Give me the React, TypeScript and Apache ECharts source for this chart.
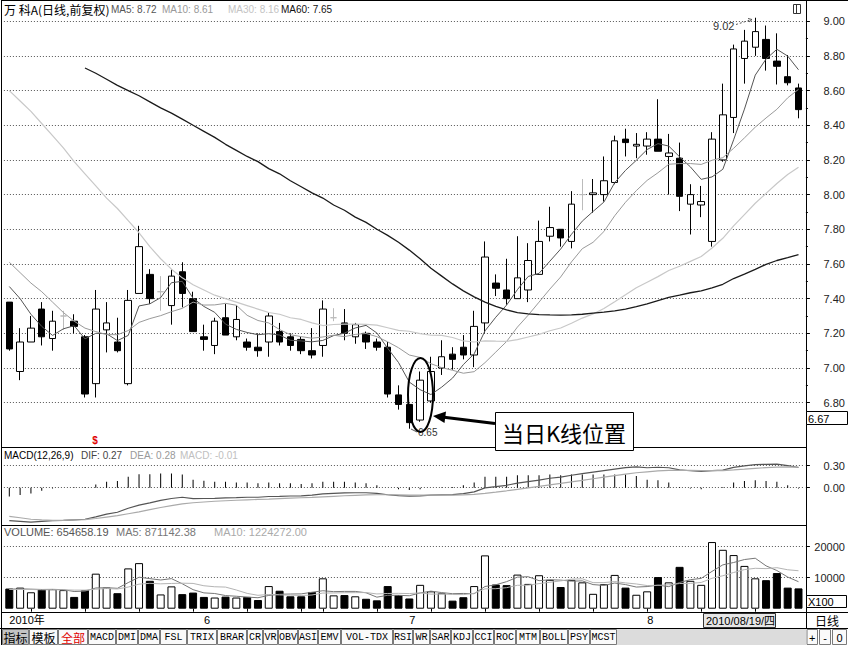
import React, { useEffect, useRef } from "react";
import * as echarts from "echarts";

// ---------------- data ----------------
const dates = [
  "2010-05-06","2010-05-07","2010-05-10","2010-05-11","2010-05-12","2010-05-13","2010-05-14",
  "2010-05-17","2010-05-18","2010-05-19","2010-05-20","2010-05-21","2010-05-24","2010-05-25",
  "2010-05-26","2010-05-27","2010-05-28","2010-05-31",
  "2010-06-01","2010-06-02","2010-06-03","2010-06-04","2010-06-07","2010-06-08","2010-06-09",
  "2010-06-10","2010-06-11","2010-06-17","2010-06-18","2010-06-21","2010-06-22","2010-06-23",
  "2010-06-24","2010-06-25","2010-06-28","2010-06-29","2010-06-30",
  "2010-07-01","2010-07-02","2010-07-05","2010-07-06","2010-07-07","2010-07-08","2010-07-09",
  "2010-07-12","2010-07-13","2010-07-14","2010-07-15","2010-07-16","2010-07-19","2010-07-20",
  "2010-07-21","2010-07-22","2010-07-23","2010-07-26","2010-07-27","2010-07-28","2010-07-29",
  "2010-07-30",
  "2010-08-02","2010-08-03","2010-08-04","2010-08-05","2010-08-06","2010-08-09","2010-08-10",
  "2010-08-11","2010-08-12","2010-08-13","2010-08-16","2010-08-17","2010-08-18","2010-08-19",
  "2010-08-20"
];
const openP = [
  7.38,6.98,7.15,7.34,7.17,7.30,7.27,7.18,6.91,7.22,
  7.15,6.91,7.43,7.54,7.44,7.36,7.555,7.40,7.18,7.13,
  7.29,7.18,7.15,7.12,7.15,7.21,7.18,7.165,7.10,7.13,
  7.29,7.26,7.18,7.20,7.15,7.12,6.845,6.79,6.70,6.81,
  7.00,7.08,7.12,7.075,7.26,7.49,7.45,7.40,7.45,7.54,
  7.76,7.80,7.73,8.00,8.00,8.00,8.07,8.32,8.28,8.28,
  8.32,8.22,8.21,7.945,7.94,7.73,8.20,8.445,8.785,8.85,
  8.895,8.77,8.68,8.615
];
const closeP = [
  7.11,7.15,7.23,7.18,7.27,7.30,7.24,6.85,7.34,7.26,
  7.10,7.39,7.70,7.40,7.44,7.53,7.43,7.21,7.165,7.27,
  7.19,7.28,7.12,7.10,7.30,7.15,7.13,7.10,7.075,7.34,
  7.29,7.20,7.25,7.15,7.12,6.85,6.79,6.685,6.93,6.98,
  7.065,7.05,7.075,7.24,7.64,7.46,7.40,7.52,7.62,7.73,
  7.81,7.75,7.945,8.00,8.01,8.08,8.31,8.30,8.29,8.32,
  8.25,8.24,7.99,8.00,7.96,8.32,8.46,8.84,8.885,8.94,
  8.785,8.74,8.645,8.49
];
const lowP = [
  7.10,6.93,7.15,7.13,7.10,7.22,7.20,6.83,6.83,7.09,
  7.09,6.90,7.43,7.37,7.33,7.25,7.35,7.21,7.10,7.08,
  7.19,7.16,7.10,7.065,7.065,7.13,7.10,7.08,7.055,7.065,
  7.27,7.16,7.14,7.11,7.10,6.83,6.76,6.65,6.69,6.80,
  6.96,6.99,7.05,7.005,7.20,7.415,7.365,7.40,7.38,7.54,
  7.73,7.70,7.69,7.91,7.895,7.96,8.06,8.22,8.21,8.23,
  8.25,8.00,7.905,7.77,7.87,7.70,8.19,8.355,8.64,8.80,
  8.715,8.635,8.63,8.44
];
const highP = [
  7.38,7.23,7.30,7.38,7.33,7.33,7.31,7.19,7.45,7.38,
  7.29,7.45,7.82,7.57,7.53,7.57,7.61,7.44,7.25,7.29,
  7.37,7.36,7.17,7.20,7.32,7.26,7.20,7.18,7.23,7.39,
  7.345,7.34,7.26,7.21,7.17,7.15,6.90,6.79,6.98,7.065,
  7.16,7.12,7.19,7.33,7.73,7.54,7.63,7.76,7.72,7.85,
  7.93,7.80,8.02,8.09,8.09,8.22,8.34,8.38,8.355,8.36,
  8.55,8.35,8.30,8.06,8.05,8.36,8.64,8.865,8.95,9.02,
  8.975,8.93,8.805,8.64
];
const grayDoji = [5, 14, 30, 53];

const ma5 = [
  7.47,7.40,7.31,7.24,7.188,7.226,7.244,7.168,7.20,7.198,
  7.158,7.188,7.358,7.37,7.406,7.492,7.50,7.402,7.355,7.321,
  7.253,7.223,7.205,7.192,7.198,7.19,7.16,7.156,7.151,7.159,
  7.187,7.201,7.231,7.246,7.202,7.114,7.032,6.919,6.875,6.847,
  6.89,6.942,7.02,7.082,7.214,7.293,7.363,7.452,7.528,7.546,
  7.616,7.686,7.771,7.847,7.903,7.957,8.069,8.14,8.198,8.26,
  8.294,8.28,8.218,8.16,8.088,8.102,8.146,8.316,8.493,8.689,
  8.782,8.838,8.799,8.72
];
const ma10 = [
  7.61,7.55,7.49,7.44,7.38,7.32,7.27,7.23,7.21,7.193,
  7.192,7.216,7.263,7.285,7.302,7.325,7.344,7.38,7.363,7.364,
  7.373,7.362,7.304,7.274,7.26,7.222,7.192,7.181,7.172,7.179,
  7.189,7.181,7.194,7.199,7.181,7.151,7.117,7.075,7.061,7.025,
  7.002,6.987,6.97,6.979,7.031,7.092,7.153,7.236,7.305,7.38,
  7.455,7.525,7.612,7.688,7.725,7.787,7.878,7.956,8.023,8.082,
  8.126,8.175,8.179,8.179,8.174,8.198,8.213,8.267,8.327,8.389,
  8.442,8.492,8.558,8.607
];
const ma30 = [
  8.60,8.54,8.48,8.41,8.34,8.27,8.19,8.12,8.05,7.98,
  7.92,7.85,7.78,7.70,7.63,7.57,7.52,7.48,7.45,7.42,
  7.40,7.38,7.36,7.34,7.32,7.31,7.29,7.28,7.26,7.245,
  7.251,7.253,7.253,7.252,7.247,7.232,7.217,7.212,7.198,7.189,
  7.188,7.176,7.156,7.150,7.157,7.155,7.154,7.164,7.179,7.194,
  7.215,7.231,7.258,7.288,7.312,7.343,7.382,7.422,7.463,7.495,
  7.527,7.562,7.587,7.615,7.643,7.692,7.748,7.820,7.885,7.950,
  8.007,8.064,8.116,8.158
];
const ma60 = [
  "-","-","-","-","-","-","-",8.73,8.70,8.665,
  8.63,8.60,8.57,8.535,8.50,8.47,8.435,8.40,8.365,8.33,
  8.29,8.255,8.22,8.19,8.15,8.12,8.08,8.045,8.01,7.98,
  7.94,7.91,7.87,7.84,7.80,7.765,7.725,7.68,7.63,7.575,
  7.53,7.485,7.445,7.41,7.38,7.355,7.335,7.32,7.312,7.308,
  7.306,7.305,7.307,7.31,7.316,7.322,7.33,7.34,7.354,7.370,
  7.389,7.407,7.420,7.434,7.445,7.462,7.483,7.516,7.541,7.569,
  7.598,7.620,7.636,7.654
];

// volume in units of 100 (axis "X100")
const volume = [
  6500,6800,5300,6300,6300,6000,3800,6000,11300,6800,
  5000,13000,14700,9000,4600,7200,4700,5200,3800,3600,
  3900,3600,3800,2800,7300,5800,4000,4000,5400,9800,
  4300,4400,4000,3200,2700,7300,4400,3300,7700,5600,
  5000,2600,3700,7300,17200,7800,7600,11000,8000,10800,
  9300,7000,9300,8500,4800,7900,10900,6800,4500,5600,
  10200,8500,13500,9000,7700,21500,19000,17300,13800,9800,
  9200,11500,6800,6547
];
const volMa5 = [
  6300,6400,6300,6200,6240,6140,5540,5680,6680,6780,
  6580,8420,10160,9700,9260,9700,8040,6140,5100,4900,
  4240,4020,3740,3540,4280,4660,4740,4780,5300,5800,
  5500,5580,5580,5140,3720,4320,4320,4180,5080,5660,
  5200,4840,4920,4840,7160,7720,8720,10180,10320,9040,
  9340,9220,8880,8980,7780,7500,8280,7780,6980,7140,
  7600,7120,8460,9360,9780,12040,14140,14900,15860,16280,
  13820,12320,10220,8711
];
const volMa10 = [
  6200,6200,6200,6100,6100,6100,6000,6000,6300,6510,
  6360,6980,7920,8190,8020,8140,8230,8150,7400,7080,
  6970,6030,4940,4320,4590,4450,4380,4260,4420,5040,
  5080,5160,5180,5220,4760,4910,4950,4880,5110,4690,
  4760,4580,4550,4960,6410,6460,6780,7550,7580,8100,
  8530,8970,9530,9650,8410,8420,8750,8330,7980,7460,
  7550,7700,8120,8170,8460,9820,10630,11680,12610,13030,
  12930,13230,12560,12243
];

const macd = [
  -0.12,-0.10,-0.08,-0.04,-0.01,0,0.005,0.01,0.045,0.08,
  0.09,0.15,0.185,0.185,0.195,0.195,0.18,0.11,0.095,0.08,
  0.08,0.07,0.07,0.06,0.07,0.06,0.06,0.05,0.06,0.08,
  0.08,0.08,0.07,0.06,0.035,0,-0.02,-0.03,-0.02,0,
  0.005,0.01,0.035,0.07,0.15,0.15,0.15,0.17,0.17,0.17,
  0.18,0.17,0.18,0.18,0.18,0.18,0.18,0.18,0.16,0.11,
  0.10,0.07,0.01,-0.01,-0.02,0,0.01,0.07,0.09,0.10,
  0.09,0.08,0.035,-0.01
];
const dea = [
  -0.39,-0.41,-0.43,-0.44,-0.445,-0.445,-0.44,-0.435,-0.42,-0.40,
  -0.38,-0.355,-0.33,-0.30,-0.27,-0.245,-0.22,-0.205,-0.195,-0.185,
  -0.178,-0.171,-0.165,-0.16,-0.155,-0.149,-0.143,-0.137,-0.131,-0.124,
  -0.117,-0.11,-0.104,-0.099,-0.096,-0.096,-0.098,-0.10,-0.102,-0.102,
  -0.101,-0.10,-0.098,-0.092,-0.077,-0.06,-0.042,-0.022,-0.002,0.018,
  0.039,0.059,0.08,0.101,0.122,0.143,0.164,0.185,0.204,0.217,
  0.229,0.237,0.238,0.236,0.233,0.233,0.234,0.242,0.252,0.264,
  0.274,0.281,0.283,0.28
];
const dif = [
  -0.45,-0.46,-0.47,-0.46,-0.45,-0.445,-0.4375,-0.43,-0.3975,-0.36,
  -0.335,-0.28,-0.2375,-0.2075,-0.1725,-0.1475,-0.13,-0.15,-0.1475,-0.145,
  -0.138,-0.136,-0.13,-0.13,-0.12,-0.119,-0.113,-0.112,-0.101,-0.084,
  -0.077,-0.07,-0.069,-0.069,-0.0785,-0.096,-0.108,-0.115,-0.112,-0.102,
  -0.0985,-0.095,-0.0805,-0.057,-0.002,0.015,0.033,0.063,0.083,0.103,
  0.129,0.144,0.17,0.191,0.212,0.233,0.254,0.275,0.284,0.272,
  0.279,0.272,0.243,0.231,0.223,0.233,0.239,0.277,0.297,0.314,
  0.319,0.321,0.3005,0.275
];

const priceAxis = { min: 6.8, max: 9.0, step: 0.2 };
const macdAxis = { min: 0, max: 0.3, step: 0.3 };
const volAxis = { min: 0, max: 20000, step: 10000 };

const headerTitle = "万 科A(日线,前复权)";
const headerMA = ["MA5: 8.72", "MA10: 8.61", "MA30: 8.16", "MA60: 7.65"];
const macdHeader = ["MACD(12,26,9)", "DIF: 0.27", "DEA: 0.28", "MACD: -0.01"];
const volHeader = ["VOLUME: 654658.19", "MA5: 871142.38", "MA10: 1224272.00"];
const toolbarItems = [
  "指标","模板","全部","MACD","DMI","DMA","FSL","TRIX","BRAR","CR","VR","OBV","ASI",
  "EMV","VOL-TDX","RSI","WR","SAR","KDJ","CCI","ROC","MTM","BOLL","PSY","MCST"
];

// ---------------- styling ----------------
const FONT = '"Liberation Sans", Arial, sans-serif';
const CJK = '"Noto Sans CJK SC", sans-serif';
const MONO = '"Liberation Mono", "DejaVu Sans Mono", monospace';
const C_MA5 = "#555555";
const C_MA10 = "#9a9a9a";
const C_MA30 = "#c8c8c8";
const C_MA60 = "#1a1a1a";

const GRID_LEFT = 3.9;
const GRID_W = 800;

function ln(x1: number, y1: number, x2: number, y2: number, stroke = "#000", lw = 1, extra: any = {}) {
  return { type: "line", silent: true, z: 50, shape: { x1, y1, x2, y2 }, style: { stroke, lineWidth: lw, ...extra } };
}
function rc(x: number, y: number, w: number, h: number, fill: string, stroke: string | null, z = 50, lw = 1) {
  return { type: "rect", silent: true, z, shape: { x, y, width: w, height: h }, style: { fill, stroke: stroke || undefined, lineWidth: lw } };
}
function tx(x: number, y: number, s: string, font: string, fill = "#000", align = "left", z = 60) {
  return { type: "text", silent: true, z, x, y, style: { text: s, font, fill, align, verticalAlign: "middle" } };
}

export default function App() {
  const ref = useRef<HTMLDivElement>(null);
  useEffect(() => {
    const chart = echarts.init(ref.current!, null, { renderer: "svg" });

    const grayStyle = { color: "#bbbbbb", color0: "#bbbbbb", borderColor: "#bbbbbb", borderColor0: "#bbbbbb" };
    const candleData = dates.map((_, i) => {
      const v = [openP[i], closeP[i], lowP[i], highP[i]];
      return grayDoji.includes(i) ? { value: v, itemStyle: grayStyle } : v;
    });
    const volData = volume.map((v, i) => {
      const up = closeP[i] >= openP[i];
      return { value: v, itemStyle: { color: up ? "#ffffff" : "#000000", borderColor: "#000", borderWidth: 1 } };
    });
    const monthStart = (i: number) => i === 0 || dates[i].slice(5, 7) !== dates[i - 1].slice(5, 7);
    const dow = (s: string) => new Date(s + "T00:00:00Z").getUTCDay();
    const weekStart = (i: number) => i > 0 && dow(dates[i]) < dow(dates[i - 1]);

    const yCommon = (min: number, max: number, step: number, fmt: (v: number) => string) => ({
      type: "value",
      position: "right",
      offset: 2,
      min,
      max,
      interval: step,
      axisLine: { show: false },
      axisTick: { show: true, length: 4, lineStyle: { color: "#000" } },
      axisLabel: { margin: 39, align: "right", color: "#222", fontSize: 11, fontFamily: FONT, formatter: fmt },
      splitLine: { show: true, lineStyle: { type: [1, 2], color: "#555", width: 1 } },
    });

    const graphic: any[] = [];
    // frame
    graphic.push(ln(1.5, 0.5, 848, 0.5, "#000"));
    graphic.push(ln(1.5, 0, 1.5, 645, "#000"));
    graphic.push(ln(806.5, 0, 806.5, 628, "#000"));
    graphic.push(ln(1.5, 447.5, 806.5, 447.5, "#000"));
    graphic.push(ln(1.5, 525.5, 806.5, 525.5, "#000"));
    graphic.push(ln(1.5, 612.5, 848, 612.5, "#000"));
    graphic.push(ln(0, 628.5, 848, 628.5, "#000"));
    // top-right icon
    graphic.push(rc(793.5, 4.5, 7, 9, "#fff", "#333"));
    graphic.push(ln(796.5, 4.5, 796.5, 13.5, "#333"));
    // headers
    graphic.push(tx(4, 9.5, headerTitle, "12px " + CJK, "#000"));
    const maX = [111, 162, 228, 281];
    const maC = [C_MA5, "#999", "#c4c4c4", "#111"];
    headerMA.forEach((s, i) => graphic.push(tx(maX[i], 9.5, s, "10px " + FONT, maC[i])));
    const mX = [4, 81, 130, 180];
    const mC = ["#000", "#444", "#999", "#c0c0c0"];
    macdHeader.forEach((s, i) => graphic.push(tx(mX[i], 455, s, "10px " + FONT, mC[i])));
    const vX = [4, 116, 214];
    const vC = ["#555", "#777", "#aaa"];
    volHeader.forEach((s, i) => graphic.push(tx(vX[i], 532, s, "11px " + FONT, vC[i])));
    // right column boxes
    graphic.push(rc(806.5, 411.5, 41, 13, "#fff", "#000"));
    graphic.push(tx(808, 418.5, "6.67", "11px " + FONT, "#000"));
    graphic.push(rc(806.5, 595.5, 40, 12, "#fff", "#000"));
    graphic.push(tx(808, 602, "X100", "11px " + FONT, "#000"));
    graphic.push(tx(827, 620.5, "日线", "12px " + CJK, "#000", "center"));
    // date box
    graphic.push(rc(703.5, 613.5, 72, 14, "#e6e6e6", "#333"));
    graphic.push(tx(706, 620.5, "2010/08/19/四", "11px " + FONT + ", " + CJK, "#000"));
    // markers
    graphic.push(tx(95, 440, "$", "bold 10px " + FONT, "#e00000", "center"));
    graphic.push(ln(411, 429, 417, 432, "#555"));
    graphic.push(tx(418, 432, "6.65", "10px " + FONT, "#333"));
    graphic.push(tx(713, 25.5, "9.02", "11px " + FONT, "#333"));
    graphic.push(ln(736, 24.5, 752, 19.5, "#555", 1, { lineDash: [2, 2] }));
    graphic.push(ln(748, 18.5, 752, 19.5, "#555"));
    graphic.push(ln(749, 22, 752, 19.5, "#555"));
    // annotation
    graphic.push({ type: "ellipse", silent: true, z: 100, shape: { cx: 420.5, cy: 395, rx: 12.5, ry: 37 }, style: { fill: "none", stroke: "#000", lineWidth: 2 } });
    graphic.push({ type: "line", silent: true, z: 100, shape: { x1: 444, x2: 495, y1: 417.3, y2: 423.5 }, style: { stroke: "#000", lineWidth: 3 } });
    graphic.push({ type: "polygon", silent: true, z: 100, shape: { points: [[433, 416], [446, 411.5], [444.5, 423]] }, style: { fill: "#000" } });
    graphic.push(rc(495.5, 412.5, 138, 38, "#fff", "#000", 100));
    graphic.push({ type: "text", silent: true, z: 101, x: 564, y: 431.5, style: { text: "当日K线位置", font: "22px " + CJK, fill: "#000", align: "center", verticalAlign: "middle" } });
    // toolbar
    graphic.push(rc(2, 629, 804, 16, "#dcdcdc", null, 40));
    const tbX = [2, 29, 58, 88, 116, 138, 160, 187, 217, 247, 263, 278, 298, 318, 341, 393, 413, 430, 451, 473, 494, 516, 540, 568, 590, 617];
    toolbarItems.forEach((s, i) => {
      const x0 = tbX[i], x1 = tbX[i + 1];
      const cjk = i < 3;
      graphic.push(rc(x0 + 0.5, 629.5, x1 - x0 - 1, 15, i === 0 ? "#c4c4c4" : "#fafafa", "#7a7a7a", 45));
      graphic.push(tx((x0 + x1) / 2, 637.5, s, cjk ? "12px " + CJK : "10px " + MONO, i === 2 ? "#e00000" : "#000", "center"));
    });
    [["+", 806.5, 818], ["-", 819, 831], ["0", 832, 847]].forEach(([s, a, b]: any) => {
      graphic.push(rc(a + 0.5, 629.5, b - a - 1, 15, "#fafafa", "#7a7a7a", 45));
      graphic.push(tx((a + b) / 2, 637.5, s, "11px " + FONT, "#000", "center"));
    });

    const option: any = {
      animation: false,
      backgroundColor: "#ffffff",
      grid: [
        { left: GRID_LEFT, width: GRID_W, top: 21.2, height: 381.5 },
        { left: GRID_LEFT, width: GRID_W, top: 465.7, height: 22 },
        { left: GRID_LEFT, width: GRID_W, top: 546.7, height: 62 },
      ],
      xAxis: [
        { type: "category", gridIndex: 0, data: dates, show: false },
        { type: "category", gridIndex: 1, data: dates, show: false },
        {
          type: "category",
          gridIndex: 2,
          data: dates,
          position: "bottom",
          offset: 4,
          axisLine: { show: false },
          axisTick: { show: true, alignWithLabel: true, length: 3, interval: (i: number) => weekStart(i), lineStyle: { color: "#000" } },
          axisLabel: {
            show: true,
            interval: (i: number) => monthStart(i),
            formatter: (v: string, i: number) => (i === 0 ? v.slice(0, 4) + "年" : String(Number(v.slice(5, 7)))),
            align: "left",
            margin: 2,
            color: "#000",
            fontSize: 11,
            fontFamily: '"Liberation Sans", "Noto Sans CJK SC", sans-serif',
          },
          splitLine: { show: false },
        },
      ],
      yAxis: [
        {
          ...yCommon(priceAxis.min, priceAxis.max, priceAxis.step, (v: number) => v.toFixed(2)),
          gridIndex: 0,
          minorTick: { show: true, splitNumber: 2, length: 2, lineStyle: { color: "#000" } },
        },
        { ...yCommon(macdAxis.min, macdAxis.max, macdAxis.step, (v: number) => v.toFixed(2)), gridIndex: 1 },
        {
          ...yCommon(volAxis.min, volAxis.max, volAxis.step, (v: number) => String(Math.round(v))),
          gridIndex: 2,
          axisLabel: {
            margin: 39,
            align: "right",
            color: "#222",
            fontSize: 11,
            fontFamily: FONT,
            showMinLabel: false,
            formatter: (v: number) => String(Math.round(v)),
          },
          splitLine: { show: true, showMinLine: false, lineStyle: { type: [1, 2], color: "#555", width: 1 } },
        },
      ],
      series: [
        {
          type: "candlestick",
          xAxisIndex: 0,
          yAxisIndex: 0,
          data: candleData,
          barWidth: 7,
          clip: false,
          silent: true,
          itemStyle: { color: "#ffffff", color0: "#000000", borderColor: "#000000", borderColor0: "#000000", borderWidth: 1 },
        },
        { type: "line", xAxisIndex: 0, yAxisIndex: 0, data: ma5, symbol: "none", silent: true, clip: false, lineStyle: { width: 1, color: C_MA5 }, z: 3 },
        { type: "line", xAxisIndex: 0, yAxisIndex: 0, data: ma10, symbol: "none", silent: true, clip: false, lineStyle: { width: 1, color: C_MA10 }, z: 3 },
        { type: "line", xAxisIndex: 0, yAxisIndex: 0, data: ma30, symbol: "none", silent: true, clip: false, lineStyle: { width: 1.2, color: C_MA30 }, z: 3 },
        { type: "line", xAxisIndex: 0, yAxisIndex: 0, data: ma60, symbol: "none", silent: true, clip: false, lineStyle: { width: 1.3, color: C_MA60 }, z: 3 },
        { type: "bar", xAxisIndex: 1, yAxisIndex: 1, data: macd, barWidth: 1, silent: true, clip: false, itemStyle: { color: "#000" } },
        { type: "line", xAxisIndex: 1, yAxisIndex: 1, data: dif, symbol: "none", silent: true, clip: false, lineStyle: { width: 1.2, color: "#555" } },
        { type: "line", xAxisIndex: 1, yAxisIndex: 1, data: dea, symbol: "none", silent: true, clip: false, lineStyle: { width: 1.2, color: "#aaa" } },
        { type: "bar", xAxisIndex: 2, yAxisIndex: 2, data: volData, barWidth: 8, silent: true, clip: false },
        { type: "line", xAxisIndex: 2, yAxisIndex: 2, data: volMa5, symbol: "none", silent: true, clip: false, lineStyle: { width: 1, color: "#777" }, z: 3 },
        { type: "line", xAxisIndex: 2, yAxisIndex: 2, data: volMa10, symbol: "none", silent: true, clip: false, lineStyle: { width: 1, color: "#b4b4b4" }, z: 3 },
      ],
      graphic,
    };
    chart.setOption(option);
    return () => chart.dispose();
  }, []);
  return <div ref={ref} style={{ position: "fixed", left: 0, top: 0, width: 848, height: 645, background: "#fff" }} />;
}
